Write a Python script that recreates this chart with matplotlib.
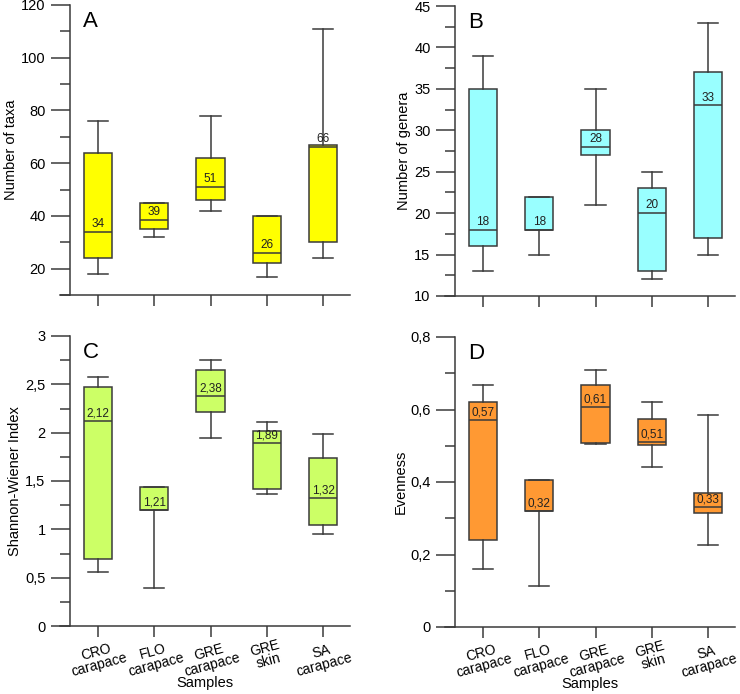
import matplotlib
matplotlib.use('Agg')
import matplotlib.pyplot as plt
from matplotlib.ticker import MultipleLocator, FuncFormatter

plt.rcParams.update({
    'font.family': ['Liberation Sans', 'DejaVu Sans'],
    'font.size': 10,
})

samples = ['CRO\ncarapace', 'FLO\ncarapace', 'GRE\ncarapace', 'GRE\nskin', 'SA\ncarapace']

# whisker low, q1, median, q3, whisker high, label
taxa_lo = [18, 32, 42, 17, 24]
taxa_q1 = [24, 35, 46, 22, 30]
taxa_med = [34, 38.5, 51, 26, 66.2]
taxa_q3 = [64, 45, 62, 40, 67]
taxa_hi = [76, 45, 78, 40, 111]
taxa_lab = ['34', '39', '51', '26', '66']

gen_lo = [13, 15, 21, 12, 15]
gen_q1 = [16, 18, 27, 13, 17]
gen_med = [18, 18, 28, 20, 33]
gen_q3 = [35, 22, 30, 23, 37]
gen_hi = [39, 22, 35, 25, 43]
gen_lab = ['18', '18', '28', '20', '33']

sh_lo = [0.56, 0.39, 1.94, 1.37, 0.95]
sh_q1 = [0.69, 1.20, 2.21, 1.42, 1.05]
sh_med = [2.12, 1.20, 2.38, 1.89, 1.32]
sh_q3 = [2.47, 1.44, 2.65, 2.02, 1.74]
sh_hi = [2.58, 1.44, 2.75, 2.11, 1.99]
sh_lab = ['2,12', '1,21', '2,38', '1,89', '1,32']

ev_lo = [0.159, 0.112, 0.506, 0.442, 0.227]
ev_q1 = [0.24, 0.319, 0.508, 0.502, 0.315]
ev_med = [0.57, 0.319, 0.607, 0.51, 0.331]
ev_q3 = [0.622, 0.406, 0.667, 0.574, 0.37]
ev_hi = [0.668, 0.406, 0.71, 0.62, 0.586]
ev_lab = ['0,57', '0,32', '0,61', '0,51', '0,33']

edge = '#3a3a3a'

def comma(v, pos):
    s = f'{v:g}'
    return s.replace('.', ',')

def panel(ax, lo, q1, med, q3, hi, labels, color, letter, ylabel, ylim, major, minor, bottom):
    stats = []
    for i in range(len(samples)):
        stats.append(dict(med=med[i], q1=q1[i], q3=q3[i], whislo=lo[i], whishi=hi[i], fliers=[]))
    pos = list(range(1, len(samples) + 1))
    ax.bxp(stats, positions=pos, widths=0.5, capwidths=0.36, patch_artist=True, showfliers=False,
           boxprops=dict(facecolor=color, edgecolor=edge, linewidth=1.1),
           medianprops=dict(color=edge, linewidth=1.1),
           whiskerprops=dict(color=edge, linewidth=1.1),
           capprops=dict(color=edge, linewidth=1.1))
    span = ylim[1] - ylim[0]
    for p, m, t in zip(pos, med, labels):
        ax.text(p, m + span * 0.006, t, ha='center', va='bottom', fontsize=8.5, color='#222222')
    ax.set_xlim(0.324, 5.48)
    ax.set_ylim(*ylim)
    ax.spines['left'].set_position(('data', 0.5))
    ax.spines['top'].set_visible(False)
    ax.spines['right'].set_visible(False)
    for s in ('left', 'bottom'):
        ax.spines[s].set_color(edge)
        ax.spines[s].set_linewidth(1.1)
    ax.yaxis.set_major_locator(MultipleLocator(major))
    ax.yaxis.set_minor_locator(MultipleLocator(minor))
    ax.yaxis.set_major_formatter(FuncFormatter(comma))
    ax.tick_params(axis='y', which='major', direction='out', length=14, width=1.1, color=edge, labelsize=10.5)
    ax.tick_params(axis='y', which='minor', direction='out', length=7, width=1.1, color=edge)
    ax.tick_params(axis='x', direction='out', length=8, width=1.1, color=edge, labelsize=10, pad=0.5)
    ax.set_xticks(pos)
    if bottom:
        ax.set_xticklabels(samples, rotation=15, ha='center', linespacing=0.9)
        ax.set_xlabel('Samples', fontsize=10.5, labelpad=-2)
    else:
        ax.set_xticklabels([''] * len(samples))
    ax.set_ylabel(ylabel, fontsize=10.5, labelpad=2)
    ax.text(0.08, 0.925, letter, transform=ax.transAxes, fontsize=16, va='baseline', ha='left')

fig = plt.figure(figsize=(7.4, 6.94), dpi=100)
W, H = 740.0, 694.0
axA = fig.add_axes([60 / W, 1 - 295 / H, 290 / W, 290 / H])
axB = fig.add_axes([445 / W, 1 - 296 / H, 290 / W, 290 / H])
axC = fig.add_axes([60 / W, 1 - 626 / H, 290 / W, 290 / H])
axD = fig.add_axes([445 / W, 1 - 627 / H, 290 / W, 290 / H])

panel(axA, taxa_lo, taxa_q1, taxa_med, taxa_q3, taxa_hi, taxa_lab, '#ffff00', 'A',
      'Number of taxa', (10, 120), 20, 10, False)
panel(axB, gen_lo, gen_q1, gen_med, gen_q3, gen_hi, gen_lab, '#99ffff', 'B',
      'Number of genera', (10, 45), 5, 2.5, False)
panel(axC, sh_lo, sh_q1, sh_med, sh_q3, sh_hi, sh_lab, '#ccff66', 'C',
      'Shannon-Wiener Index', (0, 3), 0.5, 0.25, True)
panel(axD, ev_lo, ev_q1, ev_med, ev_q3, ev_hi, ev_lab, '#ff9933', 'D',
      'Evenness', (0, 0.8), 0.2, 0.1, True)

fig.savefig('out.png', dpi=100)
